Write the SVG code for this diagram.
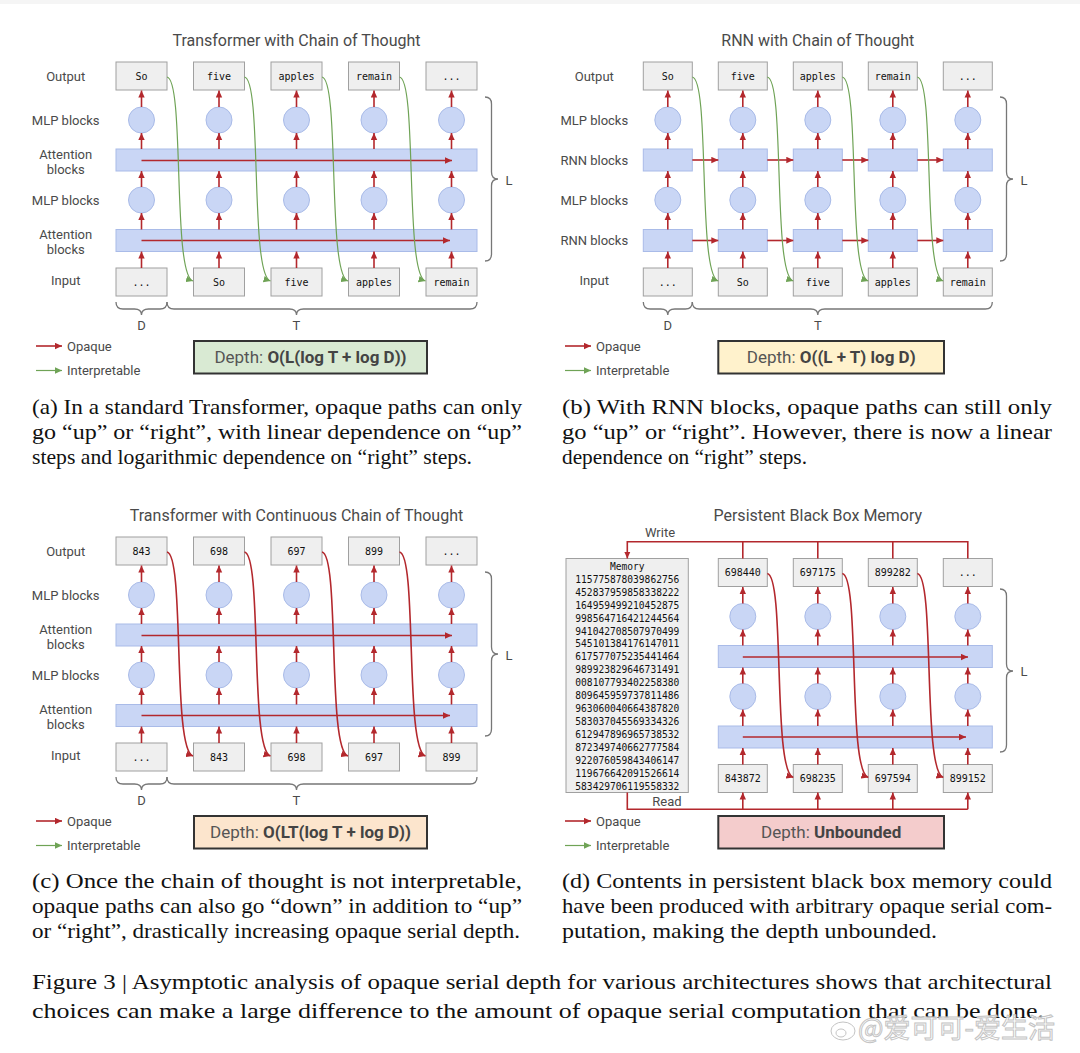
<svg xmlns="http://www.w3.org/2000/svg" xmlns:xlink="http://www.w3.org/1999/xlink" width="1080" height="1053" viewBox="0 0 1080 1053">
<style>
.box{fill:#efefef;stroke:#a0a0a0;stroke-width:1}
.blue{fill:#c9d6f5;stroke:#a9bbe8;stroke-width:1}
.red{stroke:#b3282d;stroke-width:1.6;fill:none}
.grn{stroke:#6fa356;stroke-width:1.2;fill:none}
.brace{stroke:#777;stroke-width:1.3;fill:none}
.lbl{font-family:Roboto,'Liberation Sans',sans-serif;font-size:13px;fill:#4a4a4a;text-anchor:middle}
.lg{font-family:Roboto,'Liberation Sans',sans-serif;font-size:13px;fill:#4a4a4a}
.ttl{font-family:Roboto,'Liberation Sans',sans-serif;font-size:16px;fill:#4a4a4a;text-anchor:middle}
.tok{font-family:'DejaVu Sans Mono','Liberation Mono',monospace;font-size:10px;fill:#111;text-anchor:middle}
.mem{font-family:'DejaVu Sans Mono','Liberation Mono',monospace;font-size:9.6px;fill:#111;text-anchor:middle}
.dep{font-family:Roboto,'Liberation Sans',sans-serif;font-size:17px;fill:#555;text-anchor:middle}
.dep tspan.b{font-weight:bold;fill:#444}
.dbox{stroke:#333;stroke-width:2}
.cap{font-family:'Liberation Serif','DejaVu Serif',serif;font-size:21px;fill:#111}
.fig{font-family:'Liberation Serif','DejaVu Serif',serif;font-size:22px;fill:#111}
</style>
<defs>
<marker id="ar" viewBox="0 0 7 7" refX="7" refY="3.5" markerWidth="7" markerHeight="7" markerUnits="userSpaceOnUse" orient="auto"><path d="M0,0.3 L7,3.5 L0,6.7 z" fill="#b3282d"/></marker>
<marker id="ag" viewBox="0 0 7 7" refX="7" refY="3.5" markerWidth="7" markerHeight="7" markerUnits="userSpaceOnUse" orient="auto"><path d="M0,0.3 L7,3.5 L0,6.7 z" fill="#6fa356"/></marker>
<g id="colArrows" stroke="#b3282d" stroke-width="1.6" marker-end="url(#ar)">
<line x1="0" y1="107" x2="0" y2="90.5"/>
<line x1="0" y1="149" x2="0" y2="133"/>
<line x1="0" y1="187" x2="0" y2="171"/>
<line x1="0" y1="229.5" x2="0" y2="213"/>
<line x1="0" y1="268" x2="0" y2="251.5"/>
</g>
<g id="colMlp" fill="#c9d6f5" stroke="#a9bbe8" stroke-width="1"><circle cx="0" cy="120" r="13"/><circle cx="0" cy="200" r="13"/></g>
</defs>
<rect x="0" y="0" width="1080" height="1053" fill="#ffffff"/>
<rect x="0" y="0" width="1080" height="4" fill="#f5f5f5"/>

<!-- ============ PANEL A ============ -->
<g id="panel-a">
<text class="ttl" x="296.5" y="45.5">Transformer with Chain of Thought</text>
<g id="a-labels">
<text class="lbl" x="65.7" y="80.5">Output</text>
<text class="lbl" x="65.7" y="124.5">MLP blocks</text>
<text class="lbl" x="65.7" y="158.5">Attention</text>
<text class="lbl" x="65.7" y="173.5">blocks</text>
<text class="lbl" x="65.7" y="204.5">MLP blocks</text>
<text class="lbl" x="65.7" y="238.5">Attention</text>
<text class="lbl" x="65.7" y="253.5">blocks</text>
<text class="lbl" x="65.7" y="284.5">Input</text>
</g>
<g id="a-attn1"><rect class="blue" x="116" y="149" width="361" height="22"/></g>
<g id="a-attn2"><rect class="blue" x="116" y="229.5" width="361" height="22"/></g>
<g id="a-mlp1"><use xlink:href="#colMlp" x="141.5"/></g>
<g id="a-mlp2"><use xlink:href="#colMlp" x="219"/></g>
<g id="a-mlp3"><use xlink:href="#colMlp" x="296.5"/></g>
<g id="a-mlp4"><use xlink:href="#colMlp" x="374"/></g>
<g id="a-mlp5"><use xlink:href="#colMlp" x="451.5"/></g>
<g id="a-out1"><rect class="box" x="116" y="62" width="51" height="28"/><text class="tok" x="141.5" y="79.5">So</text></g>
<g id="a-out2"><rect class="box" x="193.5" y="62" width="51" height="28"/><text class="tok" x="219" y="79.5">five</text></g>
<g id="a-out3"><rect class="box" x="271" y="62" width="51" height="28"/><text class="tok" x="296.5" y="79.5">apples</text></g>
<g id="a-out4"><rect class="box" x="348.5" y="62" width="51" height="28"/><text class="tok" x="374" y="79.5">remain</text></g>
<g id="a-out5"><rect class="box" x="426" y="62" width="51" height="28"/><text class="tok" x="451.5" y="79.5">...</text></g>
<g id="a-in1"><rect class="box" x="116" y="268" width="51" height="28"/><text class="tok" x="141.5" y="285.5">...</text></g>
<g id="a-in2"><rect class="box" x="193.5" y="268" width="51" height="28"/><text class="tok" x="219" y="285.5">So</text></g>
<g id="a-in3"><rect class="box" x="271" y="268" width="51" height="28"/><text class="tok" x="296.5" y="285.5">five</text></g>
<g id="a-in4"><rect class="box" x="348.5" y="268" width="51" height="28"/><text class="tok" x="374" y="285.5">apples</text></g>
<g id="a-in5"><rect class="box" x="426" y="268" width="51" height="28"/><text class="tok" x="451.5" y="285.5">remain</text></g>
<g id="a-braces">
<path class="brace" d="M485,97 Q491.5,97 491.5,104 V172 Q491.5,179 498,179 Q491.5,179 491.5,186 V254 Q491.5,261 485,261"/>
<text class="lbl" x="509" y="184.5">L</text>
<path class="brace" d="M116,302 Q116,309 123,309 H134.5 Q141.5,309 141.5,315 Q141.5,309 148.5,309 H160 Q167,309 167,302"/>
<path class="brace" d="M167,302 Q167,309 174,309 H289.5 Q296.5,309 296.5,315 Q296.5,309 303.5,309 H470 Q477,309 477,302"/>
<text class="lbl" x="141.5" y="330">D</text>
<text class="lbl" x="296.5" y="330">T</text>
</g>
<g id="a-legend">
<line class="red" x1="36" y1="346" x2="62" y2="346" marker-end="url(#ar)"/>
<text class="lg" x="67" y="350.5">Opaque</text>
<line class="grn" x1="36" y1="370.5" x2="62" y2="370.5" marker-end="url(#ag)"/>
<text class="lg" x="67" y="375">Interpretable</text>
</g>
<g id="a-depth"><rect class="dbox" x="194" y="341" width="233" height="32.5" fill="#d9ead3"/>
<text class="dep" x="310.5" y="363">Depth: <tspan class="b">O(L(log T + log D))</tspan></text></g>
<g id="a-connectors">
<use xlink:href="#colArrows" x="141.5"/><use xlink:href="#colArrows" x="219"/><use xlink:href="#colArrows" x="296.5"/><use xlink:href="#colArrows" x="374"/><use xlink:href="#colArrows" x="451.5"/>
<line class="red" x1="141.5" y1="160.5" x2="452" y2="160.5" marker-end="url(#ar)"/>
<line class="red" x1="141.5" y1="240.5" x2="450" y2="240.5" marker-end="url(#ar)"/>
<path class="grn" marker-end="url(#ag)" d="M167,77 C185,80 172,275 193,281"/>
<path class="grn" marker-end="url(#ag)" d="M244.5,77 C262.5,80 249.5,275 270.5,281"/>
<path class="grn" marker-end="url(#ag)" d="M322,77 C340,80 327,275 348,281"/>
<path class="grn" marker-end="url(#ag)" d="M399.5,77 C417.5,80 404.5,275 425.5,281"/>
</g>
</g>

<!-- ============ PANEL B ============ -->
<g id="panel-b">
<text class="ttl" x="817.8" y="45.5">RNN with Chain of Thought</text>
<g id="b-labels">
<text class="lbl" x="594.3" y="80.5">Output</text>
<text class="lbl" x="594.3" y="124.5">MLP blocks</text>
<text class="lbl" x="594.3" y="164.5">RNN blocks</text>
<text class="lbl" x="594.3" y="204.5">MLP blocks</text>
<text class="lbl" x="594.3" y="244.5">RNN blocks</text>
<text class="lbl" x="594.3" y="284.5">Input</text>
</g>
<g id="b-rnn">
<rect class="blue" x="643.3" y="149" width="49" height="22"/><rect class="blue" x="718.3" y="149" width="49" height="22"/><rect class="blue" x="793.3" y="149" width="49" height="22"/><rect class="blue" x="868.3" y="149" width="49" height="22"/><rect class="blue" x="943.3" y="149" width="49" height="22"/>
<rect class="blue" x="643.3" y="229.5" width="49" height="22"/><rect class="blue" x="718.3" y="229.5" width="49" height="22"/><rect class="blue" x="793.3" y="229.5" width="49" height="22"/><rect class="blue" x="868.3" y="229.5" width="49" height="22"/><rect class="blue" x="943.3" y="229.5" width="49" height="22"/>
</g>
<g id="b-mlp1"><use xlink:href="#colMlp" x="667.8"/></g>
<g id="b-mlp2"><use xlink:href="#colMlp" x="742.8"/></g>
<g id="b-mlp3"><use xlink:href="#colMlp" x="817.8"/></g>
<g id="b-mlp4"><use xlink:href="#colMlp" x="892.8"/></g>
<g id="b-mlp5"><use xlink:href="#colMlp" x="967.8"/></g>
<g id="b-out1"><rect class="box" x="643.3" y="62" width="49" height="28"/><text class="tok" x="667.8" y="79.5">So</text></g>
<g id="b-out2"><rect class="box" x="718.3" y="62" width="49" height="28"/><text class="tok" x="742.8" y="79.5">five</text></g>
<g id="b-out3"><rect class="box" x="793.3" y="62" width="49" height="28"/><text class="tok" x="817.8" y="79.5">apples</text></g>
<g id="b-out4"><rect class="box" x="868.3" y="62" width="49" height="28"/><text class="tok" x="892.8" y="79.5">remain</text></g>
<g id="b-out5"><rect class="box" x="943.3" y="62" width="49" height="28"/><text class="tok" x="967.8" y="79.5">...</text></g>
<g id="b-in1"><rect class="box" x="643.3" y="268" width="49" height="28"/><text class="tok" x="667.8" y="285.5">...</text></g>
<g id="b-in2"><rect class="box" x="718.3" y="268" width="49" height="28"/><text class="tok" x="742.8" y="285.5">So</text></g>
<g id="b-in3"><rect class="box" x="793.3" y="268" width="49" height="28"/><text class="tok" x="817.8" y="285.5">five</text></g>
<g id="b-in4"><rect class="box" x="868.3" y="268" width="49" height="28"/><text class="tok" x="892.8" y="285.5">apples</text></g>
<g id="b-in5"><rect class="box" x="943.3" y="268" width="49" height="28"/><text class="tok" x="967.8" y="285.5">remain</text></g>
<g id="b-braces">
<path class="brace" d="M1000,97 Q1006.5,97 1006.5,104 V172 Q1006.5,179 1013,179 Q1006.5,179 1006.5,186 V254 Q1006.5,261 1000,261"/>
<text class="lbl" x="1024" y="184.5">L</text>
<path class="brace" d="M643.3,302 Q643.3,309 650.3,309 H660.8 Q667.8,309 667.8,315 Q667.8,309 674.8,309 H685.3 Q692.3,309 692.3,302"/>
<path class="brace" d="M692.3,302 Q692.3,309 699.3,309 H810.8 Q817.8,309 817.8,315 Q817.8,309 824.8,309 H985.3 Q992.3,309 992.3,302"/>
<text class="lbl" x="667.8" y="330">D</text>
<text class="lbl" x="817.8" y="330">T</text>
</g>
<g id="b-legend">
<line class="red" x1="565" y1="346" x2="591" y2="346" marker-end="url(#ar)"/>
<text class="lg" x="596" y="350.5">Opaque</text>
<line class="grn" x1="565" y1="370.5" x2="591" y2="370.5" marker-end="url(#ag)"/>
<text class="lg" x="596" y="375">Interpretable</text>
</g>
<g id="b-depth"><rect class="dbox" x="718.3" y="341" width="225.7" height="32.5" fill="#fff2cc"/>
<text class="dep" x="831.2" y="363">Depth: <tspan class="b">O((L + T) log D)</tspan></text></g>
<g id="b-connectors">
<use xlink:href="#colArrows" x="667.8"/><use xlink:href="#colArrows" x="742.8"/><use xlink:href="#colArrows" x="817.8"/><use xlink:href="#colArrows" x="892.8"/><use xlink:href="#colArrows" x="967.8"/>
<g class="red">
<line x1="692.3" y1="160" x2="718.3" y2="160" marker-end="url(#ar)"/><line x1="767.3" y1="160" x2="793.3" y2="160" marker-end="url(#ar)"/><line x1="842.3" y1="160" x2="868.3" y2="160" marker-end="url(#ar)"/><line x1="917.3" y1="160" x2="943.3" y2="160" marker-end="url(#ar)"/>
<line x1="692.3" y1="240.5" x2="718.3" y2="240.5" marker-end="url(#ar)"/><line x1="767.3" y1="240.5" x2="793.3" y2="240.5" marker-end="url(#ar)"/><line x1="842.3" y1="240.5" x2="868.3" y2="240.5" marker-end="url(#ar)"/><line x1="917.3" y1="240.5" x2="943.3" y2="240.5" marker-end="url(#ar)"/>
</g>
<path class="grn" marker-end="url(#ag)" d="M692.3,77 C710.3,80 697.3,275 718.3,281"/>
<path class="grn" marker-end="url(#ag)" d="M767.3,77 C785.3,80 772.3,275 793.3,281"/>
<path class="grn" marker-end="url(#ag)" d="M842.3,77 C860.3,80 847.3,275 868.3,281"/>
<path class="grn" marker-end="url(#ag)" d="M917.3,77 C935.3,80 922.3,275 943.3,281"/>
</g>
</g>

<!-- ============ PANEL C ============ -->
<g id="panel-c">
<text class="ttl" x="296.5" y="520.5">Transformer with Continuous Chain of Thought</text>
<g id="c-labels">
<text class="lbl" x="65.7" y="555.5">Output</text>
<text class="lbl" x="65.7" y="599.5">MLP blocks</text>
<text class="lbl" x="65.7" y="633.5">Attention</text>
<text class="lbl" x="65.7" y="648.5">blocks</text>
<text class="lbl" x="65.7" y="679.5">MLP blocks</text>
<text class="lbl" x="65.7" y="713.5">Attention</text>
<text class="lbl" x="65.7" y="728.5">blocks</text>
<text class="lbl" x="65.7" y="759.5">Input</text>
</g>
<g id="c-attn1"><rect class="blue" x="116" y="624" width="361" height="22"/></g>
<g id="c-attn2"><rect class="blue" x="116" y="704.5" width="361" height="22"/></g>
<g id="c-mlp1"><use xlink:href="#colMlp" x="141.5" y="475"/></g>
<g id="c-mlp2"><use xlink:href="#colMlp" x="219" y="475"/></g>
<g id="c-mlp3"><use xlink:href="#colMlp" x="296.5" y="475"/></g>
<g id="c-mlp4"><use xlink:href="#colMlp" x="374" y="475"/></g>
<g id="c-mlp5"><use xlink:href="#colMlp" x="451.5" y="475"/></g>
<g id="c-out1"><rect class="box" x="116" y="537" width="51" height="28"/><text class="tok" x="141.5" y="554.5">843</text></g>
<g id="c-out2"><rect class="box" x="193.5" y="537" width="51" height="28"/><text class="tok" x="219" y="554.5">698</text></g>
<g id="c-out3"><rect class="box" x="271" y="537" width="51" height="28"/><text class="tok" x="296.5" y="554.5">697</text></g>
<g id="c-out4"><rect class="box" x="348.5" y="537" width="51" height="28"/><text class="tok" x="374" y="554.5">899</text></g>
<g id="c-out5"><rect class="box" x="426" y="537" width="51" height="28"/><text class="tok" x="451.5" y="554.5">...</text></g>
<g id="c-in1"><rect class="box" x="116" y="743" width="51" height="28"/><text class="tok" x="141.5" y="760.5">...</text></g>
<g id="c-in2"><rect class="box" x="193.5" y="743" width="51" height="28"/><text class="tok" x="219" y="760.5">843</text></g>
<g id="c-in3"><rect class="box" x="271" y="743" width="51" height="28"/><text class="tok" x="296.5" y="760.5">698</text></g>
<g id="c-in4"><rect class="box" x="348.5" y="743" width="51" height="28"/><text class="tok" x="374" y="760.5">697</text></g>
<g id="c-in5"><rect class="box" x="426" y="743" width="51" height="28"/><text class="tok" x="451.5" y="760.5">899</text></g>
<g id="c-braces">
<path class="brace" d="M485,572 Q491.5,572 491.5,579 V647 Q491.5,654 498,654 Q491.5,654 491.5,661 V729 Q491.5,736 485,736"/>
<text class="lbl" x="509" y="659.5">L</text>
<path class="brace" d="M116,777 Q116,784 123,784 H134.5 Q141.5,784 141.5,790 Q141.5,784 148.5,784 H160 Q167,784 167,777"/>
<path class="brace" d="M167,777 Q167,784 174,784 H289.5 Q296.5,784 296.5,790 Q296.5,784 303.5,784 H470 Q477,784 477,777"/>
<text class="lbl" x="141.5" y="805">D</text>
<text class="lbl" x="296.5" y="805">T</text>
</g>
<g id="c-legend">
<line class="red" x1="36" y1="821" x2="62" y2="821" marker-end="url(#ar)"/>
<text class="lg" x="67" y="825.5">Opaque</text>
<line class="grn" x1="36" y1="845.5" x2="62" y2="845.5" marker-end="url(#ag)"/>
<text class="lg" x="67" y="850">Interpretable</text>
</g>
<g id="c-depth"><rect class="dbox" x="194" y="816" width="233" height="32.5" fill="#fce5cd"/>
<text class="dep" x="310.5" y="838">Depth: <tspan class="b">O(LT(log T + log D))</tspan></text></g>
<g id="c-connectors">
<use xlink:href="#colArrows" x="141.5" y="475"/><use xlink:href="#colArrows" x="219" y="475"/><use xlink:href="#colArrows" x="296.5" y="475"/><use xlink:href="#colArrows" x="374" y="475"/><use xlink:href="#colArrows" x="451.5" y="475"/>
<line class="red" x1="141.5" y1="635.5" x2="452" y2="635.5" marker-end="url(#ar)"/>
<line class="red" x1="141.5" y1="715.5" x2="450" y2="715.5" marker-end="url(#ar)"/>
<path class="red" marker-end="url(#ar)" d="M167,552 C185,555 172,750 193,756"/>
<path class="red" marker-end="url(#ar)" d="M244.5,552 C262.5,555 249.5,750 270.5,756"/>
<path class="red" marker-end="url(#ar)" d="M322,552 C340,555 327,750 348,756"/>
<path class="red" marker-end="url(#ar)" d="M399.5,552 C417.5,555 404.5,750 425.5,756"/>
</g>
</g>

<!-- ============ PANEL D ============ -->
<g id="panel-d">
<text class="ttl" x="817.8" y="520.5">Persistent Black Box Memory</text>
<text class="lbl" x="660" y="536.5">Write</text>
<text class="lbl" x="667" y="805.5">Read</text>
<g id="d-memory"><rect class="box" x="566" y="558.5" width="122.3" height="234"/>
<text class="mem" x="627.3" y="570">Memory</text>
<text class="mem" x="627.3" y="582.8">115775878039862756</text>
<text class="mem" x="627.3" y="595.7">452837959858338222</text>
<text class="mem" x="627.3" y="608.6">164959499210452875</text>
<text class="mem" x="627.3" y="621.6">998564716421244564</text>
<text class="mem" x="627.3" y="634.5">941042708507970499</text>
<text class="mem" x="627.3" y="647.4">545101384176147011</text>
<text class="mem" x="627.3" y="660.3">617577075235441464</text>
<text class="mem" x="627.3" y="673.2">989923829646731491</text>
<text class="mem" x="627.3" y="686.2">008107793402258380</text>
<text class="mem" x="627.3" y="699.1">809645959737811486</text>
<text class="mem" x="627.3" y="712">963060040664387820</text>
<text class="mem" x="627.3" y="724.9">583037045569334326</text>
<text class="mem" x="627.3" y="737.8">612947896965738532</text>
<text class="mem" x="627.3" y="750.8">872349740662777584</text>
<text class="mem" x="627.3" y="763.7">922076059843406147</text>
<text class="mem" x="627.3" y="776.6">119676642091526614</text>
<text class="mem" x="627.3" y="789.5">583429706119558332</text>
</g>
<g id="d-attn1"><rect class="blue" x="718.3" y="645.5" width="274" height="22"/></g>
<g id="d-attn2"><rect class="blue" x="718.3" y="726" width="274" height="22"/></g>
<g id="d-mlp1"><use xlink:href="#colMlp" x="742.8" y="496.5"/></g>
<g id="d-mlp2"><use xlink:href="#colMlp" x="817.8" y="496.5"/></g>
<g id="d-mlp3"><use xlink:href="#colMlp" x="892.8" y="496.5"/></g>
<g id="d-mlp4"><use xlink:href="#colMlp" x="967.8" y="496.5"/></g>
<g id="d-out1"><rect class="box" x="718.3" y="558.5" width="49" height="28"/><text class="tok" x="742.8" y="576">698440</text></g>
<g id="d-out2"><rect class="box" x="793.3" y="558.5" width="49" height="28"/><text class="tok" x="817.8" y="576">697175</text></g>
<g id="d-out3"><rect class="box" x="868.3" y="558.5" width="49" height="28"/><text class="tok" x="892.8" y="576">899282</text></g>
<g id="d-out4"><rect class="box" x="943.3" y="558.5" width="49" height="28"/><text class="tok" x="967.8" y="576">...</text></g>
<g id="d-in1"><rect class="box" x="718.3" y="764.5" width="49" height="28"/><text class="tok" x="742.8" y="782">843872</text></g>
<g id="d-in2"><rect class="box" x="793.3" y="764.5" width="49" height="28"/><text class="tok" x="817.8" y="782">698235</text></g>
<g id="d-in3"><rect class="box" x="868.3" y="764.5" width="49" height="28"/><text class="tok" x="892.8" y="782">697594</text></g>
<g id="d-in4"><rect class="box" x="943.3" y="764.5" width="49" height="28"/><text class="tok" x="967.8" y="782">899152</text></g>
<g id="d-braces">
<path class="brace" d="M1000,589 Q1006.5,589 1006.5,596 V664 Q1006.5,671 1013,671 Q1006.5,671 1006.5,678 V745 Q1006.5,752 1000,752"/>
<text class="lbl" x="1024" y="676">L</text>
</g>
<g id="d-legend">
<line class="red" x1="565" y1="821" x2="591" y2="821" marker-end="url(#ar)"/>
<text class="lg" x="596" y="825.5">Opaque</text>
<line class="grn" x1="565" y1="845.5" x2="591" y2="845.5" marker-end="url(#ag)"/>
<text class="lg" x="596" y="850">Interpretable</text>
</g>
<g id="d-depth"><rect class="dbox" x="718.3" y="816" width="225.7" height="32.5" fill="#f4cccc"/>
<text class="dep" x="831.2" y="838">Depth: <tspan class="b">Unbounded</tspan></text></g>
<g id="d-connectors">
<use xlink:href="#colArrows" x="742.8" y="496.5"/><use xlink:href="#colArrows" x="817.8" y="496.5"/><use xlink:href="#colArrows" x="892.8" y="496.5"/><use xlink:href="#colArrows" x="967.8" y="496.5"/>
<line class="red" x1="742.8" y1="657" x2="968" y2="657" marker-end="url(#ar)"/>
<line class="red" x1="742.8" y1="737" x2="966" y2="737" marker-end="url(#ar)"/>
<path class="red" marker-end="url(#ar)" d="M767.3,573.5 C785.3,576.5 772.3,771.5 793.3,777.5"/>
<path class="red" marker-end="url(#ar)" d="M842.3,573.5 C860.3,576.5 847.3,771.5 868.3,777.5"/>
<path class="red" marker-end="url(#ar)" d="M917.3,573.5 C935.3,576.5 922.3,771.5 943.3,777.5"/>
<path class="red" d="M742.8,558.5 V541.7 M817.8,558.5 V541.7 M892.8,558.5 V541.7"/>
<path class="red" marker-end="url(#ar)" d="M967.8,558.5 V541.7 H627.3 V558.5"/>
<path class="red" d="M627.3,792.5 V809.3 H967.8"/>
<line class="red" x1="742.8" y1="809.3" x2="742.8" y2="792.5" marker-end="url(#ar)"/>
<line class="red" x1="817.8" y1="809.3" x2="817.8" y2="792.5" marker-end="url(#ar)"/>
<line class="red" x1="892.8" y1="809.3" x2="892.8" y2="792.5" marker-end="url(#ar)"/>
<line class="red" x1="967.8" y1="809.3" x2="967.8" y2="792.5" marker-end="url(#ar)"/>
</g>
</g>

<!-- ============ CAPTIONS ============ -->
<g id="captions">
<text class="cap" x="32" y="414" textLength="490" lengthAdjust="spacingAndGlyphs">(a) In a standard Transformer, opaque paths can only</text>
<text class="cap" x="32" y="439" textLength="490" lengthAdjust="spacingAndGlyphs">go “up” or “right”, with linear dependence on “up”</text>
<text class="cap" x="32" y="464" textLength="440" lengthAdjust="spacingAndGlyphs">steps and logarithmic dependence on “right” steps.</text>
<text class="cap" x="562" y="414" textLength="490" lengthAdjust="spacingAndGlyphs">(b) With RNN blocks, opaque paths can still only</text>
<text class="cap" x="562" y="439" textLength="490" lengthAdjust="spacingAndGlyphs">go “up” or “right”.  However, there is now a linear</text>
<text class="cap" x="562" y="464" textLength="245" lengthAdjust="spacingAndGlyphs">dependence on “right” steps.</text>
<text class="cap" x="32" y="888" textLength="490" lengthAdjust="spacingAndGlyphs">(c) Once the chain of thought is not interpretable,</text>
<text class="cap" x="32" y="913" textLength="490" lengthAdjust="spacingAndGlyphs">opaque paths can also go “down” in addition to “up”</text>
<text class="cap" x="32" y="938" textLength="488" lengthAdjust="spacingAndGlyphs">or “right”, drastically increasing opaque serial depth.</text>
<text class="cap" x="562" y="888" textLength="490" lengthAdjust="spacingAndGlyphs">(d) Contents in persistent black box memory could</text>
<text class="cap" x="562" y="913" textLength="490" lengthAdjust="spacingAndGlyphs">have been produced with arbitrary opaque serial com-</text>
<text class="cap" x="562" y="938" textLength="375" lengthAdjust="spacingAndGlyphs">putation, making the depth unbounded.</text>
<text class="fig" x="32" y="989" textLength="1020" lengthAdjust="spacingAndGlyphs">Figure 3 | Asymptotic analysis of opaque serial depth for various architectures shows that architectural</text>
<text class="fig" x="32" y="1018" textLength="1012" lengthAdjust="spacingAndGlyphs">choices can make a large difference to the amount of opaque serial computation that can be done.</text>
</g>
<g id="watermark" fill="#ffffff" fill-opacity="0.75" stroke="#c4c4c4" stroke-width="1">
<ellipse cx="843" cy="1031" rx="12" ry="9"/>
<ellipse cx="841" cy="1033" rx="5" ry="4"/>
<text x="858" y="1038" font-family="'Noto Sans CJK SC',sans-serif" font-size="27">@爱可可-爱生活</text>
</g>
</svg>
